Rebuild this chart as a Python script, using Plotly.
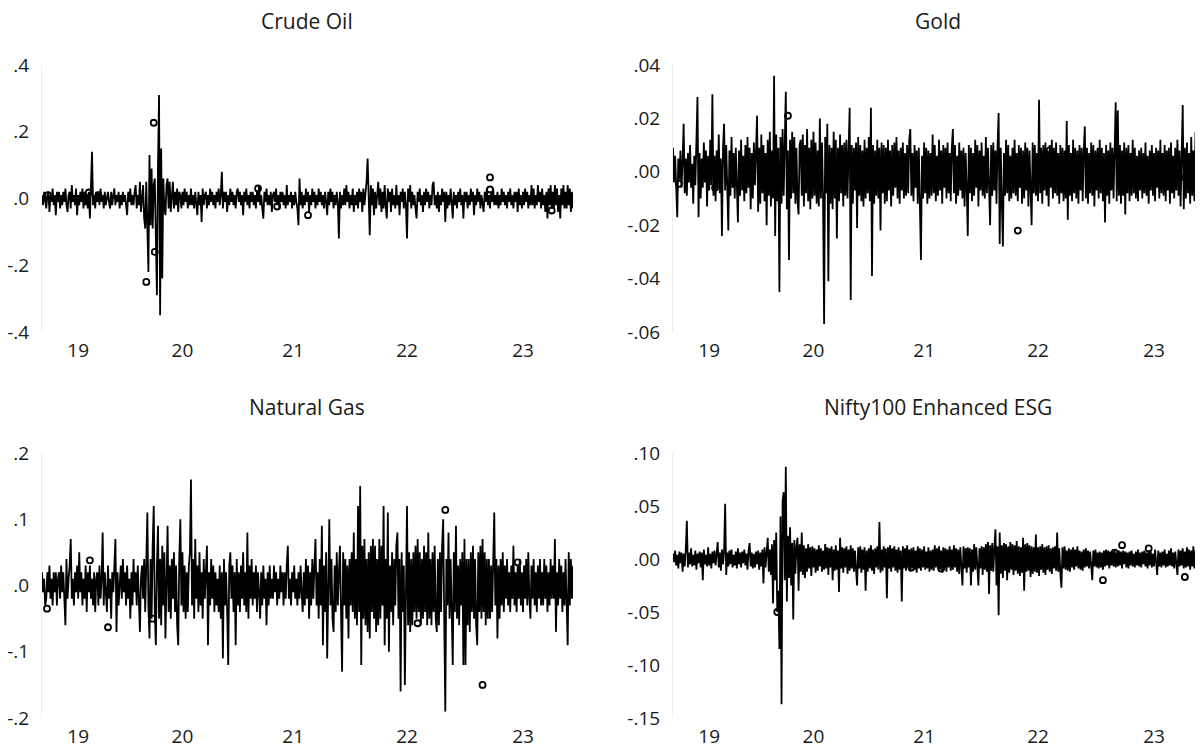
import plotly.graph_objects as go

# ---- x axis (observation index) and tick labels ----
year_tick_pos = [34, 132, 236, 343, 452]
year_tick_lab = ["19", "20", "21", "22", "23"]

# ---- series values ----
# Crude Oil and Natural Gas: returns in percent; Gold and Nifty: in 0.1 percent
crude_oil = [
    1, -2, 2, -1, -3, 1, 2, -4, 1, -1, 3, -2, 1, -5, 2, -1, 2, -3, 1, -2,
    2, -1, 3, -2, -4, 1, 2, -3, 4, -1, 1, -2, 3, -5, 1, -2, 2, -1, 3, -3,
    2, -2, 1, -3, 2, -6, 3, 14, -2, 1, -3, 2, -1, 2, -2, 3, -1, 1, -3, 2,
    -2, 1, 2, -1, -3, 2, -2, 1, 3, -2, 1, -1, 2, -3, 1, -2, 2, -1, 1, -2,
    -5, 2, -1, 3, -2, 1, -2, 2, 4, -3, 1, -2, 5, -4, 2, 4, -6, -9, 5, -9,
    -22, 13, -8, 9, -9, 4, 6, -12, -29, 10, 31, -35, 15, -24, 6, -3, -5, 4, 6, -3,
    5, -4, 2, 5, -3, 2, -2, 3, -4, 2, 1, -3, 2, -2, 3, -1, 2, -3, 1, -2,
    3, -2, 1, -3, 2, -1, -5, 2, -2, 1, -7, 3, -2, 1, 2, -3, 1, -2, 3, -1,
    2, -2, 1, -3, 2, -1, 3, -2, 1, 8, -3, 2, -1, 2, -4, 1, -2, 3, -1, 2,
    -2, 1, -3, 2, 3, -1, 2, -2, 1, -5, 2, -1, 3, -2, 1, -3, 2, -1, 2, -2,
    1, -3, 2, -1, 4, -2, 1, -3, -6, 2, -1, 3, -2, 1, -2, 2, -4, 1, 2, -1,
    3, -2, 1, -3, 2, -1, 2, -2, 1, -3, 4, -2, 1, -1, 2, -3, 1, -2, 2, -1,
    -3, -8, 6, -2, 2, -3, 1, -2, 3, -1, 2, -4, 1, -2, 3, -1, 2, -3, 1, -2,
    3, -1, 2, -2, 1, -3, 2, -1, -5, 2, -2, 3, -1, 2, -3, 1, -2, 2, -1, -12,
    2, -3, 1, -2, 3, -2, 4, -1, 2, -3, 1, -2, 3, -4, 1, -2, 2, -3, 3, -1,
    2, -4, 3, -2, 1, 5, 12, -3, -11, 4, -2, 3, -5, 2, -3, 1, 5, -2, 3, -4,
    2, -3, 4, -2, -6, 3, -1, 2, -4, 3, -2, 1, -3, 4, -2, 1, -5, 2, -1, 3,
    -3, 2, -2, -12, 3, -1, 4, -3, 2, -2, 1, -3, -6, 2, -1, 3, -2, 1, -4, 2,
    -2, 3, -1, 2, -3, 1, -2, 4, 5, -2, 1, -3, 2, -4, 1, -2, 3, -1, 2, -7,
    2, -3, 1, -2, 3, -1, -6, 2, -2, 1, -3, 2, -1, 3, -2, 1, -6, 2, -1, 2,
    -3, 1, -2, 3, -1, 2, -5, 1, -2, 3, -1, 2, -3, 1, -2, -4, 2, -1, 3, -2,
    1, -3, 2, -1, 3, -2, 1, -2, 2, -3, 1, -2, 3, -1, 2, -2, 1, -3, 2, -1,
    3, -2, 1, -3, 2, -1, 2, -4, 3, -2, 1, -3, 2, -2, 3, -1, 2, -3, 1, -2,
    4, -2, 3, -3, 1, -2, 4, -1, 2, -3, 3, -2, 1, -4, 2, -6, 3, -2, 4, -3,
    2, -3, 4, -2, 3, -4, 1, -6, 3, -2, 4, -3, 2, -3, 4, -2, 3, -4, 2, -3,
]

gold = [
    9, -4, 6, -7, -17, 5, -3, 8, -6, 4, 18, -8, 5, -9, 7, -4, 10, -6, 3, -12,
    6, -5, 9, 28, -17, 7, -10, 5, -6, 11, -4, 8, -13, 6, -7, 12, -5, 29, -9, 6,
    -11, 8, -6, 14, -8, 5, -24, 9, 18, -7, 10, -12, -22, 8, -9, 13, -6, 7, -10, 9,
    -5, -19, 8, -9, 12, -7, 6, -11, 10, -8, 13, -6, 9, -14, 7, -10, 11, -5, 8, 21,
    -15, 9, -12, 14, -8, 10, -11, 7, -20, 12, -9, 15, -13, 8, -10, 36, -24, 14, -11, 9,
    -45, 13, -12, 16, -9, 11, 30, -14, 8, -33, 12, -10, 15, -8, 13, -12, 9, -11, -16, 10,
    12, -9, 14, -13, 10, -8, 16, -11, 9, -14, 12, -10, 15, -9, 11, -12, 8, -13, 20, -10,
    11, -9, -57, 13, -8, 18, -41, 10, -12, 9, -14, 15, -10, 12, -25, 9, -11, 14, -8, 10,
    -13, 11, -9, 12, -10, 8, 24, -48, 10, -12, 9, -7, 11, -21, 13, -9, 10, -11, 8, -13,
    12, -10, 9, -8, 13, -11, 24, -39, 10, -12, 8, -9, 12, -10, 9, -22, 11, -8, 10, -12,
    9, -11, 12, -7, 8, -13, 10, -9, 11, -6, 13, -10, 8, -12, 9, -7, 11, -10, 7, -9,
    10, -8, 12, 16, -9, 7, -11, 10, -6, 8, -12, 9, -7, -33, 6, -10, 11, -8, 9, -12,
    8, -10, 7, -9, 14, -8, 10, -11, 6, -9, 12, -7, 8, -12, 10, -6, 9, -10, 11, -8,
    7, -11, 9, 16, -8, 10, -12, 6, -9, 11, -7, 8, -10, 9, -13, 7, -6, -24, 10, -8,
    9, -11, 7, -9, 12, -6, 10, -13, 8, -7, 11, -9, 6, -10, 13, -8, 9, -12, -20, 10,
    -9, 11, -7, 8, -12, 10, 22, -27, 9, -11, -28, 7, -9, 12, -8, 10, -11, 6, -10, 9,
    -8, 12, -9, 7, -11, 10, -6, 9, -12, 8, -10, 11, -7, 9, -13, 8, -9, -20, 11, -8,
    10, -9, 7, -11, 27, -8, 9, -12, 10, -7, 11, -9, 8, -13, 10, -6, 12, -10, 9, -8,
    11, -9, 7, -12, 10, -8, 9, -11, 8, -10, 19, -18, 10, -9, 7, -11, 12, -8, 9, -10,
    8, -12, 10, -7, 9, -11, 8, 17, -10, 9, -12, 7, -8, 11, -9, 10, -13, 8, -7, 9,
    -10, 12, -8, 9, -11, 7, -19, 10, -9, 8, -12, 11, -7, 9, -10, 8, 26, -11, 23, -9,
    10, -12, 8, -9, 11, -16, 9, -8, 10, -11, 7, -9, 12, -8, 9, -10, 6, -11, 8, -7,
    9, -10, 7, -8, 11, -9, 6, -12, 8, -7, 10, -9, 7, -11, 9, -6, 8, -10, 12, -8,
    7, -9, 10, -11, 8, -7, 9, -12, 11, -8, 6, -10, 9, -7, 12, -9, 8, -13, 10, 25,
    -14, 9, -10, 11, -8, 7, -12, 13, -9, 8, -11, 15, -10, 9, -7, 12, -15, 20, -9, 11,
]

natural_gas = [
    2, -1, 1, -3, -2, 2, -1, 3, -2, 1, -3, 2, -1, 2, -3, 1, 2, -2, 3, -1,
    2, -3, -6, 4, -2, 1, 3, 7, -2, 1, -3, 2, -1, 3, -2, 5, -1, 2, -3, 1,
    -2, 3, -4, 2, -1, 3, -2, 1, -3, 2, -4, 1, 2, -3, 3, -2, 1, 8, -3, 2,
    -1, -4, 3, -2, 1, -5, 2, -1, 3, 7, -7, 2, -3, 1, 3, -2, 4, -1, 2, -3,
    3, -2, 1, -5, 2, -3, 4, -1, 2, -3, 3, -2, -7, 1, 3, -2, 4, -4, 5, 11,
    -3, -8, 4, -5, 6, 12, -4, -9, 3, 9, -5, 4, -6, 6, -3, 5, -8, 3, 9, -4,
    3, -5, 4, -2, 5, -4, 3, -6, -9, 4, 10, -3, 5, -4, 3, -5, 2, -4, 3, 5,
    16, -3, 4, -5, 7, -2, 3, -4, 5, -3, 2, -5, 4, -2, 3, 6, -9, 2, -3, 4,
    -2, 3, -4, 2, -3, 1, -4, 3, -5, 2, -11, 4, -3, 2, -4, -12, 3, 5, -2, 3,
    -4, 2, -9, 4, -3, 2, -4, 3, -2, 5, -3, 2, -4, 8, -5, 3, -2, 4, -3, 2,
    -2, 3, -4, 2, -1, -5, 2, -3, 3, -2, 1, -6, 2, -3, 3, -2, 1, -2, 3, -1,
    2, -3, 1, -2, 3, -1, 2, -3, 2, -2, 3, 6, -2, 1, -3, 2, -1, 3, -2, 1,
    -3, 2, -2, 3, -1, -4, 2, -3, 4, -2, 3, -5, 2, -3, 4, -2, 3, 7, -3, 2,
    -5, 4, -3, 9, -9, 3, -4, 5, -11, 4, 10, -3, 4, -5, -7, 3, -4, 5, -3, 2,
    6, -4, -13, 5, -3, 4, -5, 3, -8, 4, -3, 5, -4, 8, -5, 4, -6, 12, -4, 15,
    -12, 6, -5, 7, -6, 4, -7, 5, -8, 6, -4, 7, -5, 6, -7, 4, -6, 7, -5, 6,
    -3, 12, -9, 4, -5, 11, -10, 3, -4, 5, -6, 4, -3, 6, 8, -5, 4, -16, 5, -4,
    3, -15, 5, 12, -6, 5, -7, 4, -6, 5, -4, 6, -5, 7, -4, 5, -6, 4, -5, 6,
    -4, 5, -6, 8, -5, 4, -6, 5, -4, 6, -5, -7, 4, -6, 5, -4, 6, 10, -5, -19,
    4, -3, 8, -5, 4, -6, -12, 5, -4, 9, -5, 3, -6, 4, -3, 5, -12, 7, -12, 4,
    -6, 4, -7, 5, -4, 6, -5, 4, -6, -9, 5, -4, 6, -5, 7, -4, 5, -6, 4, -5,
    4, -5, 3, -4, 5, 11, -3, 4, -8, 3, -5, 4, -3, 5, -4, 3, -2, 4, -3, 2,
    -4, 3, -2, 6, -3, 2, -4, 3, -2, 4, -3, 2, -4, 3, -2, 4, -3, 5, -2, -5,
    3, -2, 4, -3, 2, -4, 3, -2, 4, -3, 2, -3, 4, -2, 3, -4, 2, -3, 4, -2,
    3, -2, 7, -7, 2, -3, 4, -2, 3, -4, 2, -3, 4, -2, -9, 5, -3, 4, -2, 3,
]

nifty_esg = [
    5, -3, 8, -6, 4, -9, 7, -4, 6, -12, 5, -7, 9, 36, -8, 6, -5, 10, -7, 4,
    -6, 8, -10, 5, -4, 7, -8, 6, -20, 9, -5, 4, -7, 11, -6, 5, -9, 7, -4, 8,
    -6, 5, 16, -8, 6, -11, 9, -5, 7, 52, -15, 6, -7, 8, -5, 9, -8, 4, -6, 7,
    -9, 10, -5, 6, -8, 7, -4, 9, -6, 5, -10, 8, 15, -7, 6, -9, 5, -8, 7, -5,
    8, -10, 6, -7, 9, -23, 11, -8, 7, 20, -12, 9, -15, 14, -42, 18, -20, 25, -50, -30,
    -85, 40, -137, 55, 63, -20, 87, -40, 22, -18, 30, -25, 15, -57, 18, -14, 12, 20, -30, 14,
    -12, 25, -15, 13, -18, 10, -12, 14, -9, 11, -16, 12, -8, 10, -13, 9, -11, 13, -7, 10,
    -12, 8, -10, 14, -9, 11, -15, 10, -8, 12, -20, 9, -11, 13, -10, 8, -31, 20, -9, 11,
    -13, 10, -8, 12, -14, 9, -11, 13, -9, 10, -12, 8, -10, -25, 11, -9, 12, -13, 9, -10,
    11, -30, 8, -12, 10, -9, 13, -11, 9, -14, 10, -8, 12, -10, 35, -13, 9, -11, 12, -8,
    10, -37, 11, -9, 13, -12, 10, -8, 12, -11, 9, -13, 11, -10, 8, -40, 12, -9, 10, -11,
    13, -8, 9, -12, 10, -9, 11, -10, 8, -13, 12, -9, 10, -11, 9, -8, 12, -10, 7, -9,
    11, -12, 8, -10, 9, -11, 13, -8, 10, -9, 12, -10, 8, -13, 11, -9, 10, -12, 9, -8,
    12, -11, 9, -10, 13, -8, 10, -12, 9, -14, 11, -10, -25, 12, -9, 10, -13, 11, -8, 10,
    -25, 9, -12, 14, -10, 11, -13, -25, 10, -9, 12, -15, 11, -10, 14, -12, 16, -33, 13, -11,
    15, -12, 10, 28, -25, 12, -53, 25, -14, 13, -18, 15, -11, 14, -20, 12, -13, 16, -10, 14,
    -15, 13, -11, 17, -14, 12, -16, 11, -13, 20, -30, 14, -12, 15, -11, 13, -17, 12, -14, 11,
    -12, 23, -13, 11, -16, 12, -10, 14, -13, 11, -15, 12, -10, 13, -12, 10, -14, 11, -9, 12,
    -11, 25, -12, 10, -13, -27, 11, -9, 12, -10, 8, -11, 10, -12, 9, -8, 11, -10, 9, -7,
    12, -9, 8, -10, 7, -11, 9, -8, 10, -7, 8, -9, 7, -10, -20, 8, -7, 9, -8, 6,
    -9, 7, -8, 6, -10, 8, -7, 9, -6, 8, -9, 7, -6, 8, -7, 9, -8, 6, -7, 8,
    -6, 7, -9, 8, -5, 7, -8, 6, -9, 7, -6, 8, -7, 5, -8, 7, -6, 9, -7, 6,
    -8, 7, -5, 8, -7, 6, -9, 8, -6, 7, -8, 5, -7, 9, -6, -15, 8, -7, 6, -8,
    7, -6, 9, -8, 5, -7, 8, -6, 10, -7, 6, -9, 7, -8, -15, 9, -7, 8, -6, 10,
    -9, 7, -8, 11, -7, 9, -10, 8, -7, 12, -9, 8, -11, 10, -8, 15, -10, -15, 9, -8,
]

# ---- isolated observations drawn as small circles ----
crude_pts_x = [5.6, 44, 53, 98, 105, 106, 203, 221, 250, 421, 421, 479]
crude_pts_y = [1, 1.8, 1, -25, 22.7, -16, 3, -2.4, -5, 6.3, 2.7, -3.6]
gold_pts_x = [5.6, 39.5, 108, 324, 354, 471, 481]
gold_pts_y = [-4.5, -6, 21, -22, 8, 4.5, -2]
gas_pts_x = [4.7, 45, 62, 104, 353, 379, 414, 447]
gas_pts_y = [-3.5, 3.8, -6.3, -5, -5.7, 11.4, -15, 3.5]
nifty_pts_x = [98, 224, 252, 404, 415, 422, 447, 481]
nifty_pts_y = [-50, -8, -9, -20, 6, 13, 10, -17]

titles = ["Crude Oil", "Gold", "Natural Gas", "Nifty100 Enhanced ESG"]

y_ticks = [
    ([-40, -20, 0, 20, 40], ["-.4", "-.2", ".0", ".2", ".4"]),
    ([-60, -40, -20, 0, 20, 40], ["-.06", "-.04", "-.02", ".00", ".02", ".04"]),
    ([-20, -10, 0, 10, 20], ["-.2", "-.1", ".0", ".1", ".2"]),
    ([-150, -100, -50, 0, 50, 100], ["-.15", "-.10", "-.05", ".00", ".05", ".10"]),
]

series = [crude_oil, gold, natural_gas, nifty_esg]
points = [(crude_pts_x, crude_pts_y), (gold_pts_x, gold_pts_y),
          (gas_pts_x, gas_pts_y), (nifty_pts_x, nifty_pts_y)]

# the page adds an 8px body margin; work in screen pixels and shift by it
OFF = 8
W, H = 1203 - OFF, 751 - OFF


def fx(px):
    return (px - OFF) / W


def fy(py):
    return 1 - (py - OFF) / H


x_doms = [[fx(42), fx(573)], [fx(673), 1.0], [fx(42), fx(573)], [fx(673), 1.0]]
y_doms = [[fy(332), fy(65)], [fy(332), fy(65)],
          [fy(718), fy(453)], [fy(718), fy(453)]]
title_y = [21, 21, 407, 407]
title_x = [307, 938, 307, 938]

FONT = "Open Sans"
TXT = "#1a1a1a"
fig = go.Figure()
layout = dict(
    template="none",
    width=W, height=H,
    margin=dict(l=0, r=0, t=0, b=0, pad=0),
    paper_bgcolor="white", plot_bgcolor="white",
    showlegend=False,
    font=dict(family=FONT, size=19, color=TXT),
    annotations=[],
)

for i in range(4):
    n = len(series[i])
    xs = list(range(n))
    sfx = "" if i == 0 else str(i + 1)
    if i in (0, 2):
        xr = [0, n - 1]
    else:
        xr = [0, (n - 1) * (W + OFF - 673) / 531]
    fig.add_trace(go.Scatter(
        x=xs, y=series[i], mode="lines",
        line=dict(color="black", width=1.8),
        xaxis="x" + sfx, yaxis="y" + sfx, hoverinfo="skip"))
    fig.add_trace(go.Scatter(
        x=points[i][0], y=points[i][1], mode="markers",
        marker=dict(symbol="circle-open", size=6, color="black",
                    line=dict(width=1.8, color="black")),
        xaxis="x" + sfx, yaxis="y" + sfx, hoverinfo="skip"))
    tv, tt = y_ticks[i]
    layout["xaxis" + sfx] = dict(
        domain=x_doms[i], range=xr, anchor="y" + sfx,
        tickmode="array", tickvals=year_tick_pos, ticktext=year_tick_lab,
        showgrid=False, zeroline=False, showline=False, ticks="",
        automargin=False, ticklabelstandoff=5,
        tickfont=dict(family=FONT, size=19, color=TXT))
    layout["yaxis" + sfx] = dict(
        domain=y_doms[i], range=[tv[0], tv[-1]], anchor="x" + sfx,
        tickmode="array", tickvals=tv, ticktext=tt,
        showgrid=False, zeroline=False, showline=True,
        linecolor="#eeeeee", linewidth=1, ticks="",
        automargin=False, ticklabelstandoff=8,
        tickfont=dict(family=FONT, size=19, color=TXT))
    layout["annotations"].append(dict(
        text=titles[i], xref="paper", yref="paper",
        x=fx(title_x[i]), y=fy(title_y[i]),
        xanchor="center", yanchor="middle",
        showarrow=False, font=dict(family=FONT, size=21, color=TXT)))

fig.update_layout(**layout)
fig.write_html("out.html")
